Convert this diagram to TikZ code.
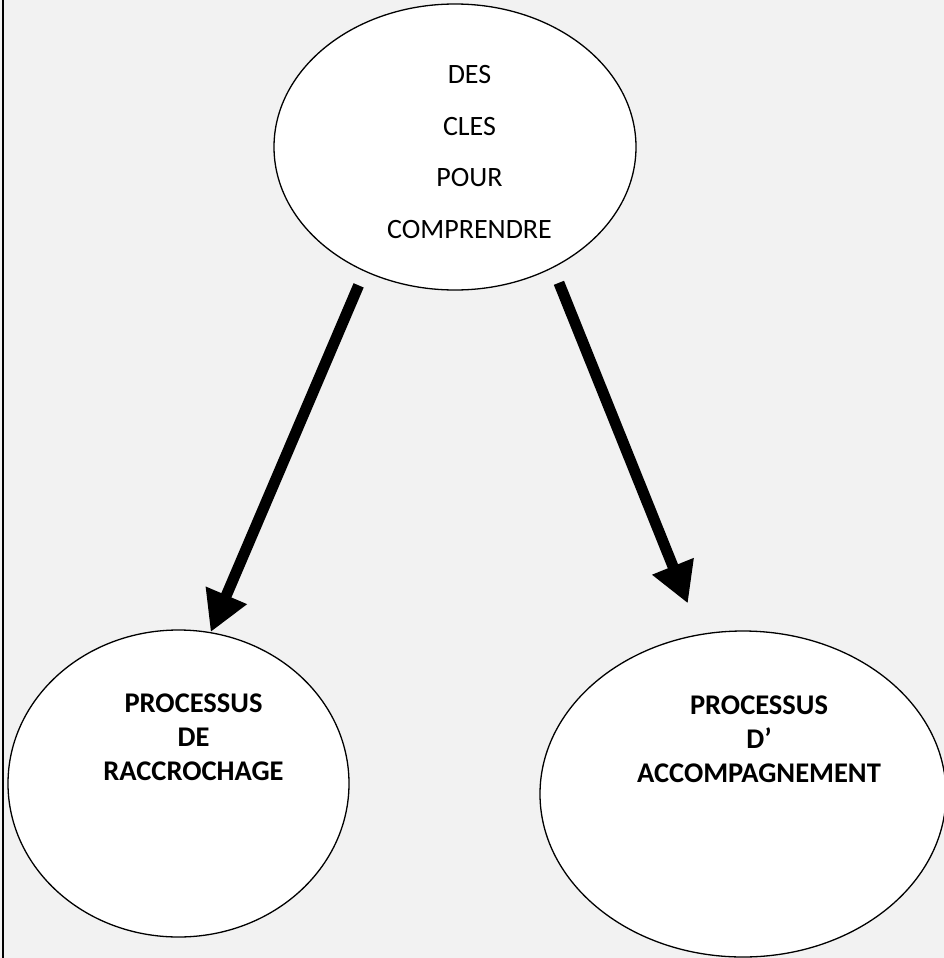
\documentclass[tikz,border=0pt]{standalone}
\usepackage{fontspec}
\setmainfont{Carlito}
\usepackage{tikz}
\usepackage{xcolor}
\usetikzlibrary{arrows.meta}
\usetikzlibrary{shapes}
\definecolor{hintergrund}{HTML}{F2F2F2}
\tikzset{
  blase/.style={ellipse, draw, fill=white, line width=1.3pt, inner sep=0pt},
  oben/.style={align=center, font=\fontsize{28}{51.5}\selectfont},
  unten/.style={align=center, font=\fontsize{28.5}{34}\selectfont\bfseries},
  pfeil/.style={line width=11pt, -{Triangle[length=40pt,width=42pt]}}
}
\begin{document}
\begin{tikzpicture}[x=1pt,y=-1pt]
% Hintergrund und Rand links:
\fill[hintergrund] (0,0) rectangle (944,958);
\useasboundingbox (0,0) rectangle (944,958);
\draw[line width=1.5pt] (3,0) -- (3,958);
% Die drei Ellipsen:
\node[blase, minimum width=362pt, minimum height=286pt] (cles) at (455,147) {};
\node[blase, minimum width=341pt, minimum height=307pt] (raccrochage) at (178.5,783.5) {};
\node[blase, minimum width=406pt, minimum height=326pt] (accompagnement) at (743,794) {};
% Texte in den Ellipsen:
\node[oben] (clestext) at (469.5,152) {DES\\CLES\\POUR\\COMPRENDRE};
\node[unten] (raccrochagetext) at (193.5,737) {PROCESSUS\\DE\\RACCROCHAGE};
\node[unten] (accompagnementtext) at (759,739.5) {PROCESSUS\\D’\\ACCOMPAGNEMENT};
% Pfeile von oben nach unten:
\draw[pfeil, shorten <=15pt] (cles.234) -- (raccrochage.78);
\draw[pfeil, shorten <=16pt, shorten >=33pt] (cles.309.5) -- (accompagnement.105);
\end{tikzpicture}
\end{document}
